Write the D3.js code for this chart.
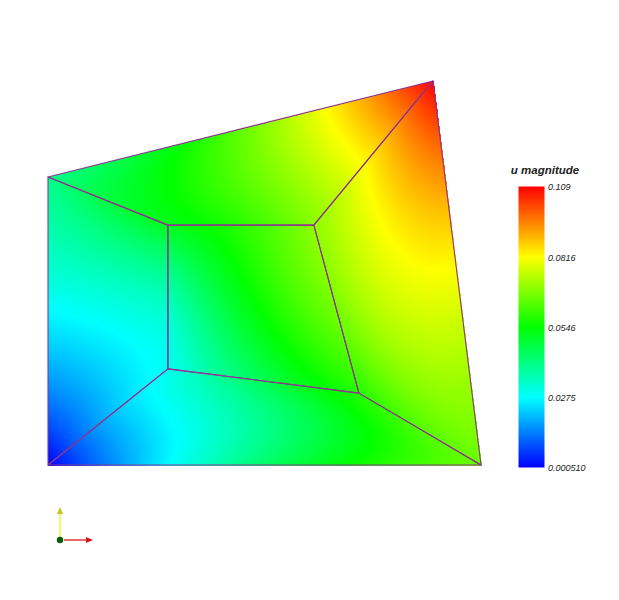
<!DOCTYPE html>
<html>
<head>
<meta charset="utf-8">
<script src="https://cdn.jsdelivr.net/npm/d3@7"></script>
<style>
  html, body { margin: 0; padding: 0; background: #fff; }
  svg { display: block; }
</style>
</head>
<body>
<div id="chart"></div>
<script>
// mesh nodes (model coordinates) and corner values of |u|
const nodeX = [0, 1, 0.889, 0, 0.277, 0.718, 0.614, 0.277];
const nodeY = [0, 0, 0.887, 0.665, 0.222, 0.166, 0.554, 0.554];
const uMag = [0.00051, 0.066, 0.109, 0.040, 0.029, 0.058, 0.070, 0.052];

// quadratic cells: mid-edge values and cell-centre values
const edgeNodes = [[0, 1], [1, 2], [2, 3], [3, 0], [0, 4], [1, 5], [2, 6], [3, 7], [4, 5], [5, 6], [6, 7], [7, 4]];
const edgeMidU = [0.044, 0.081, 0.065, 0.026, 0.020, 0.063, 0.085, 0.048, 0.046, 0.067, 0.059, 0.035];

// quad cells, node indices counterclockwise: bottom, right, top, left, centre
const cells = [
  [0, 1, 5, 4],
  [1, 2, 6, 5],
  [2, 3, 7, 6],
  [3, 0, 4, 7],
  [4, 5, 6, 7]
];
const cellCenterU = [0.040, 0.078, 0.064, 0.030, 0.054];

const uMin = 0.000510;
const uMax = 0.109;
const tickValues = [0.109, 0.0816, 0.0546, 0.0275, 0.000510];
const tickLabels = ["0.109", "0.0816", "0.0546", "0.0275", "0.000510"];
const rainbow = ["#0000ff", "#00ffff", "#00ff00", "#ffff00", "#ff0000"];

const width = 619, height = 600;

const svg = d3.select("#chart").append("svg")
  .attr("width", width)
  .attr("height", height);

const x = d3.scaleLinear().domain([0, 1]).range([48, 481]);
const y = d3.scaleLinear().domain([0, 1]).range([465, 32]);

const color = d3.scaleLinear()
  .domain(d3.range(5).map(i => uMin + (uMax - uMin) * i / 4))
  .range(rainbow)
  .clamp(true);

const midValue = (a, b) => {
  const k = edgeNodes.findIndex(e => (e[0] === a && e[1] === b) || (e[0] === b && e[1] === a));
  return edgeMidU[k];
};

// 1D quadratic Lagrange basis on nodes 0, 0.5, 1
const lag = s => [2 * (s - 0.5) * (s - 1), -4 * s * (s - 1), 2 * s * (s - 0.5)];

// Paint the field inside each quad
const canvas = document.createElement("canvas");
canvas.width = width;
canvas.height = height;
const ctx = canvas.getContext("2d");
const img = ctx.createImageData(width, height);

cells.forEach((cell, ci) => {
  const px = cell.map(i => x(nodeX[i]));
  const py = cell.map(i => y(nodeY[i]));
  const [a, b, c, d] = cell;
  // v[i][j]: i along s (a->b), j along t (a->d)
  const v = [
    [uMag[a], midValue(a, d), uMag[d]],
    [midValue(a, b), cellCenterU[ci], midValue(d, c)],
    [uMag[b], midValue(b, c), uMag[c]]
  ];
  const n = 700;
  for (let p = 0; p <= n; p++) {
    const s = p / n;
    const ls = lag(s);
    for (let q = 0; q <= n; q++) {
      const t = q / n;
      const lt = lag(t);
      const w0 = (1 - s) * (1 - t), w1 = s * (1 - t), w2 = s * t, w3 = (1 - s) * t;
      const X = Math.round(w0 * px[0] + w1 * px[1] + w2 * px[2] + w3 * px[3]);
      const Y = Math.round(w0 * py[0] + w1 * py[1] + w2 * py[2] + w3 * py[3]);
      if (X < 0 || Y < 0 || X >= width || Y >= height) continue;
      let val = 0;
      for (let i = 0; i < 3; i++) {
        for (let j = 0; j < 3; j++) val += ls[i] * lt[j] * v[i][j];
      }
      const col = d3.rgb(color(val));
      const k = (Y * width + X) * 4;
      img.data[k] = col.r;
      img.data[k + 1] = col.g;
      img.data[k + 2] = col.b;
      img.data[k + 3] = 255;
    }
  }
});
ctx.putImageData(img, 0, 0);

svg.append("image")
  .attr("x", 0)
  .attr("y", 0)
  .attr("width", width)
  .attr("height", height)
  .attr("href", canvas.toDataURL());

// cell edges
svg.append("g")
  .selectAll("path")
  .data(cells)
  .join("path")
  .attr("d", cell => "M" + cell.map(i => `${x(nodeX[i])},${y(nodeY[i])}`).join("L") + "Z")
  .attr("fill", "none")
  .attr("stroke", "#8e3490")
  .attr("stroke-width", 1.1)
  .attr("stroke-linejoin", "round");

// colour legend
const barX = 518.5, barW = 26;
const yBar = d3.scaleLinear().domain([uMin, uMax]).range([467.5, 186.5]);

const grad = svg.append("defs").append("linearGradient")
  .attr("id", "bar-gradient")
  .attr("x1", 0).attr("y1", 1)
  .attr("x2", 0).attr("y2", 0);

d3.range(0, 1.0001, 0.05).forEach(f => {
  grad.append("stop")
    .attr("offset", `${f * 100}%`)
    .attr("stop-color", color(uMin + f * (uMax - uMin)));
});

svg.append("rect")
  .attr("x", barX)
  .attr("y", yBar(uMax))
  .attr("width", barW)
  .attr("height", yBar(uMin) - yBar(uMax))
  .attr("fill", "url(#bar-gradient)");

svg.append("text")
  .attr("x", 545)
  .attr("y", 174)
  .attr("text-anchor", "middle")
  .style("font-family", "Liberation Sans, Arial, sans-serif")
  .style("font-size", "11.5px")
  .style("font-weight", "bold")
  .style("font-style", "italic")
  .attr("fill", "#222")
  .text("u magnitude");

svg.append("g")
  .selectAll("text")
  .data(tickValues)
  .join("text")
  .attr("x", 548)
  .attr("y", d => yBar(d))
  .attr("dy", "0.35em")
  .style("font-family", "Liberation Sans, Arial, sans-serif")
  .style("font-size", "9px")
  .style("font-style", "italic")
  .attr("fill", "#222")
  .text((d, i) => tickLabels[i]);

// orientation triad
const triad = svg.append("g").attr("transform", "translate(60,540)");
triad.append("line")
  .attr("x1", 0).attr("y1", -3).attr("x2", 0).attr("y2", -27)
  .attr("stroke", "#f5f53a").attr("stroke-width", 1.5);
triad.append("path")
  .attr("d", "M-3,-26L3,-26L0,-33Z")
  .attr("fill", "#c9c21a");
triad.append("line")
  .attr("x1", 4).attr("y1", 0).attr("x2", 27).attr("y2", 0)
  .attr("stroke", "#e03a3a").attr("stroke-width", 1.5);
triad.append("path")
  .attr("d", "M26,-3L26,3L33,0Z")
  .attr("fill", "#d01818");
triad.append("circle")
  .attr("r", 3.2)
  .attr("fill", "#0b5e0b");
</script>
</body>
</html>
